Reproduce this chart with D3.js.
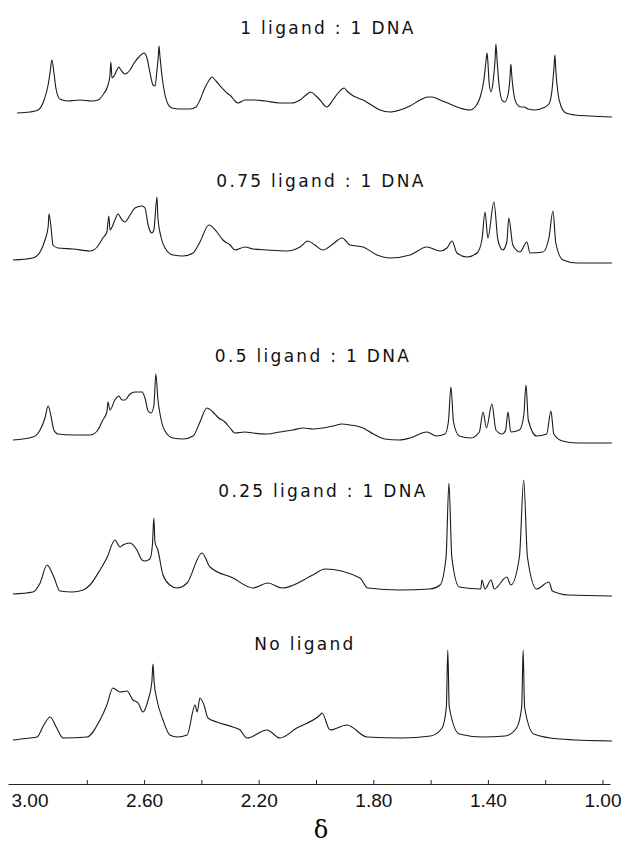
<!DOCTYPE html>
<html>
<head>
<meta charset="utf-8">
<script src="https://cdn.jsdelivr.net/npm/d3@7"></script>
<style>
  body { margin: 0; background: #fff; }
  .title { font-family: "DejaVu Sans", sans-serif; font-size: 17px; letter-spacing: 2.3px; fill: #111; }
  .axis text { font-family: "Liberation Sans Narrow", "Liberation Sans", sans-serif; font-size: 19px; fill: #111; }
  .axis path, .axis line { stroke: #222; }
</style>
</head>
<body>
<div id="chart"></div>
<script>
var svgWidth = 625;
var svgHeight = 843;

// spectra: [ppm, intensity]
var titles = ["1 ligand : 1 DNA", "0.75 ligand : 1 DNA", "0.5 ligand : 1 DNA", "0.25 ligand : 1 DNA", "No ligand"];

var spec1 = [[3.044,5],[2.998,6],[2.970,8],[2.949,18],[2.935,33],[2.928,46],[2.922,58],[2.915,46],[2.908,30],[2.894,19],[2.866,17],[2.824,18],[2.782,17],[2.761,18],[2.744,23],[2.726,33],[2.719,43],[2.716,56],[2.712,40],[2.705,42],[2.695,48],[2.688,51],[2.681,48],[2.667,44],[2.649,48],[2.635,55],[2.618,61],[2.600,65],[2.590,60],[2.580,46],[2.569,33],[2.562,32],[2.555,48],[2.550,63],[2.548,72],[2.545,63],[2.538,43],[2.527,23],[2.517,14],[2.503,10],[2.475,9],[2.440,9],[2.419,11],[2.405,18],[2.388,30],[2.370,39],[2.363,41],[2.349,37],[2.328,30],[2.307,24],[2.297,22],[2.283,17],[2.272,15],[2.248,18],[2.213,18],[2.178,17],[2.126,15],[2.084,15],[2.056,18],[2.035,23],[2.018,26],[2.000,22],[1.986,18],[1.962,11],[1.941,18],[1.923,25],[1.909,29],[1.902,30],[1.892,27],[1.875,23],[1.854,20],[1.836,18],[1.812,14],[1.777,8],[1.742,6],[1.707,8],[1.672,12],[1.637,18],[1.609,21],[1.595,21],[1.567,18],[1.533,14],[1.498,10],[1.463,8],[1.442,12],[1.428,20],[1.414,38],[1.407,56],[1.403,65],[1.400,56],[1.396,36],[1.389,26],[1.382,36],[1.375,58],[1.372,74],[1.368,58],[1.361,33],[1.351,18],[1.341,16],[1.330,23],[1.323,40],[1.320,54],[1.316,40],[1.309,23],[1.299,14],[1.285,11],[1.274,11],[1.260,9],[1.236,8],[1.208,10],[1.187,14],[1.177,26],[1.170,48],[1.166,63],[1.163,48],[1.156,26],[1.145,12],[1.128,5],[1.096,3],[1.044,2],[0.967,1]];

var spec2 = [[3.058,5],[2.988,7],[2.963,13],[2.946,25],[2.935,38],[2.932,51],[2.925,38],[2.918,20],[2.901,17],[2.848,16],[2.789,14],[2.764,18],[2.744,27],[2.730,33],[2.723,49],[2.719,35],[2.702,45],[2.691,51],[2.677,45],[2.667,43],[2.649,50],[2.632,57],[2.607,59],[2.597,57],[2.586,40],[2.573,32],[2.566,35],[2.555,68],[2.552,48],[2.541,28],[2.527,17],[2.499,10],[2.464,9],[2.429,12],[2.405,23],[2.374,40],[2.346,33],[2.325,25],[2.300,20],[2.283,15],[2.248,18],[2.220,16],[2.171,15],[2.101,14],[2.056,18],[2.028,24],[2.004,20],[1.976,15],[1.941,21],[1.909,27],[1.881,20],[1.836,18],[1.787,10],[1.742,7],[1.672,10],[1.613,18],[1.567,14],[1.543,17],[1.525,24],[1.508,12],[1.473,8],[1.438,12],[1.421,25],[1.410,53],[1.400,27],[1.379,63],[1.365,25],[1.348,15],[1.334,23],[1.327,47],[1.313,20],[1.288,13],[1.264,23],[1.253,12],[1.208,13],[1.187,27],[1.173,54],[1.163,22],[1.138,5],[1.089,2],[0.967,2]];

var spec3 = [[3.058,4],[2.988,7],[2.963,14],[2.946,26],[2.935,38],[2.925,28],[2.915,14],[2.901,10],[2.848,9],[2.789,9],[2.764,13],[2.744,24],[2.730,32],[2.726,42],[2.719,34],[2.702,44],[2.688,48],[2.677,44],[2.667,44],[2.649,50],[2.632,52],[2.607,52],[2.597,46],[2.586,33],[2.576,31],[2.566,38],[2.559,70],[2.552,45],[2.541,25],[2.527,13],[2.499,6],[2.464,5],[2.429,8],[2.405,22],[2.381,36],[2.360,32],[2.340,26],[2.318,22],[2.300,16],[2.283,11],[2.248,12],[2.220,11],[2.171,10],[2.126,12],[2.080,14],[2.045,16],[2.010,15],[1.976,16],[1.941,18],[1.909,20],[1.881,19],[1.836,16],[1.800,10],[1.760,5],[1.710,4],[1.672,6],[1.613,12],[1.580,8],[1.550,10],[1.538,22],[1.529,57],[1.520,22],[1.500,8],[1.460,6],[1.430,12],[1.417,32],[1.405,16],[1.386,40],[1.372,14],[1.350,10],[1.338,14],[1.330,32],[1.320,12],[1.290,14],[1.275,28],[1.267,59],[1.259,24],[1.230,8],[1.195,10],[1.180,33],[1.170,10],[1.140,3],[1.089,1],[0.967,1]];

var spec4 = [[3.058,3],[2.988,5],[2.963,14],[2.939,32],[2.915,20],[2.894,6],[2.850,5],[2.813,7],[2.789,12],[2.754,27],[2.730,39],[2.702,57],[2.684,50],[2.674,52],[2.649,54],[2.625,47],[2.607,37],[2.597,36],[2.580,38],[2.571,52],[2.566,79],[2.562,55],[2.552,47],[2.534,22],[2.510,12],[2.485,9],[2.450,14],[2.398,44],[2.370,30],[2.290,19],[2.220,9],[2.168,14],[2.119,9],[2.011,22],[1.969,28],[1.847,19],[1.819,9],[1.707,7],[1.602,8],[1.567,12],[1.546,40],[1.536,114],[1.526,40],[1.500,10],[1.425,8],[1.421,17],[1.410,8],[1.389,17],[1.378,8],[1.334,20],[1.320,12],[1.290,40],[1.275,117],[1.262,40],[1.230,8],[1.187,15],[1.175,6],[1.120,2],[0.967,1]];

var spec5 = [[3.058,2],[3.000,4],[2.974,5],[2.950,17],[2.928,25],[2.905,14],[2.883,4],[2.799,5],[2.754,22],[2.730,37],[2.709,54],[2.684,50],[2.660,51],[2.639,42],[2.621,39],[2.604,30],[2.586,42],[2.573,60],[2.569,78],[2.565,60],[2.555,42],[2.534,22],[2.510,7],[2.485,5],[2.450,7],[2.422,37],[2.415,30],[2.405,44],[2.391,37],[2.377,24],[2.346,20],[2.290,15],[2.265,12],[2.241,4],[2.171,12],[2.126,4],[2.067,14],[1.986,27],[1.979,29],[1.951,12],[1.892,17],[1.822,5],[1.700,4],[1.600,6],[1.560,14],[1.545,35],[1.540,92],[1.535,35],[1.500,8],[1.420,5],[1.340,6],[1.300,14],[1.282,35],[1.277,92],[1.272,35],[1.240,8],[1.150,3],[0.967,1]];

var spectra = [spec1, spec2, spec3, spec4, spec5];
var baselines = [118, 265, 444, 597, 742];
var titleX = [328, 321, 313, 323, 305];
var titleY = [34, 187, 362, 497, 650];

// axis ticks
var minorTicks = [2.8, 2.6, 2.4, 2.2, 2.0, 1.8, 1.6, 1.4, 1.2, 1.0];
var tickLabels = [3.0, 2.6, 2.2, 1.8, 1.4, 1.0];

var svg = d3.select("#chart")
    .append("svg")
    .attr("width", svgWidth)
    .attr("height", svgHeight);

var xScale = d3.scaleLinear()
    .domain([3.0, 1.0])
    .range([29.5, 602.5]);

spectra.forEach(function (spec, i) {
    var yScale = d3.scaleLinear()
        .domain([0, 100])
        .range([baselines[i], baselines[i] - 100]);

    var line = d3.line()
        .x(d => xScale(d[0]))
        .y(d => yScale(d[1]))
        .curve(d3.curveMonotoneX);

    svg.append("path")
        .datum(spec)
        .attr("d", line)
        .attr("fill", "none")
        .attr("stroke", "#1a1a1a")
        .attr("stroke-width", 1.1);

    svg.append("text")
        .attr("class", "title")
        .attr("x", titleX[i])
        .attr("y", titleY[i])
        .attr("text-anchor", "middle")
        .text(titles[i]);
});

// axis line runs a little past both end labels
var axisScale = xScale.copy()
    .domain([3.075, 0.974])
    .range([xScale(3.075), xScale(0.974)]);

svg.append("g")
    .attr("class", "axis")
    .attr("transform", "translate(0, 784)")
    .call(d3.axisBottom(axisScale).tickValues(minorTicks).tickSizeInner(-4).tickSizeOuter(0).tickFormat(""));

svg.append("g")
    .attr("class", "axis")
    .attr("transform", "translate(0, 784)")
    .call(d3.axisBottom(xScale).tickValues(tickLabels).tickSize(0).tickPadding(10).tickFormat(d3.format(".2f")))
    .call(g => g.select(".domain").remove());

svg.append("text")
    .attr("x", 321)
    .attr("y", 838)
    .attr("text-anchor", "middle")
    .style("font-family", "DejaVu Serif, serif")
    .style("font-size", "24px")
    .text("δ");
</script>
</body>
</html>
